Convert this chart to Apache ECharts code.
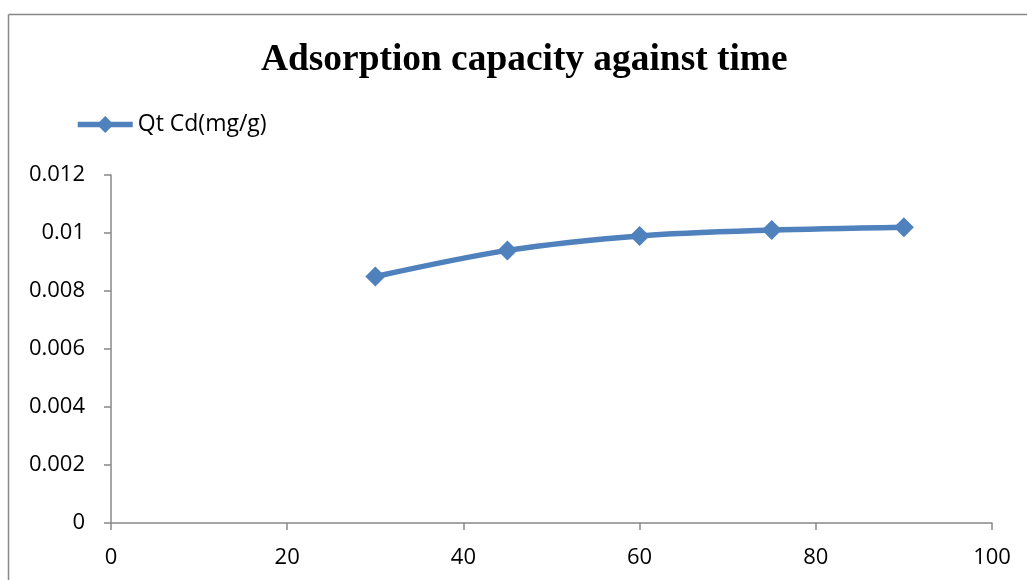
<!DOCTYPE html>
<html><head><meta charset="utf-8">
<script src="https://cdn.jsdelivr.net/npm/echarts@6/dist/echarts.min.js"></script>
<style>html,body{margin:0;padding:0;background:#fff}#c{width:1027px;height:580px}</style>
</head><body><div id="c"></div>
<script>
const titleText = 'Adsorption capacity against time';
const seriesName = 'Qt Cd(mg/g)';
const times = [30, 45, 60, 75, 90];
const qtCd = [0.0085, 0.0094, 0.0099, 0.0101, 0.0102];
const xTicks = [0, 20, 40, 60, 80, 100];
const yTicks = [0, 0.002, 0.004, 0.006, 0.008, 0.01, 0.012];

const chart = echarts.init(document.getElementById('c'));
const labelFont = {fontFamily: '"Open Sans", "Noto Sans", sans-serif', fontSize: 22, color: '#000'};
chart.setOption({
  animation: false,
  title: {text: titleText, left: 256, top: 37,
    textStyle: {fontFamily: '"Liberation Serif", "Times New Roman", serif', fontWeight: 'bold', fontSize: 37.4, color: '#000'}},
  legend: {left: 70, top: 108, itemWidth: 55, itemHeight: 21, itemGap: 4,
    data: [{name: seriesName}],
    lineStyle: {width: 5.5, color: '#4f81bd'},
    textStyle: Object.assign({}, labelFont, {fontSize: 23, padding: [0,0,0,0]})},
  graphic: [
    {type: 'line', shape: {x1: 8.5, y1: 14.5, x2: 1027, y2: 14.5}, style: {stroke: '#888', lineWidth: 1.5}},
    {type: 'line', shape: {x1: 8.5, y1: 14.5, x2: 8.5, y2: 580}, style: {stroke: '#888', lineWidth: 1.5}}
  ],
  grid: {left: 111, right: 35, top: 175, bottom: 57},
  xAxis: {type: 'value', min: xTicks[0], max: xTicks[xTicks.length-1], interval: 20,
    axisLine: {lineStyle: {color: '#888', width: 1.5}},
    axisTick: {show: true, length: 7, lineStyle: {color: '#888', width: 1.5}},
    splitLine: {show: false},
    axisLabel: Object.assign({margin: 24}, labelFont)},
  yAxis: {type: 'value', min: yTicks[0], max: yTicks[yTicks.length-1], interval: 0.002,
    axisLine: {show: true, lineStyle: {color: '#888', width: 1.5}},
    axisTick: {show: true, length: 7, lineStyle: {color: '#888', width: 1.5}},
    splitLine: {show: false},
    axisLabel: Object.assign({margin: 26, formatter: v => String(Number(v.toFixed(4)))}, labelFont)},
  series: [{
    name: seriesName, type: 'line', smooth: 0.3,
    data: times.map((t, i) => [t, qtCd[i]]),
    symbol: 'diamond', symbolSize: 20,
    itemStyle: {color: '#4f81bd'},
    lineStyle: {color: '#4f81bd', width: 5.5}
  }]
});
</script></body></html>
